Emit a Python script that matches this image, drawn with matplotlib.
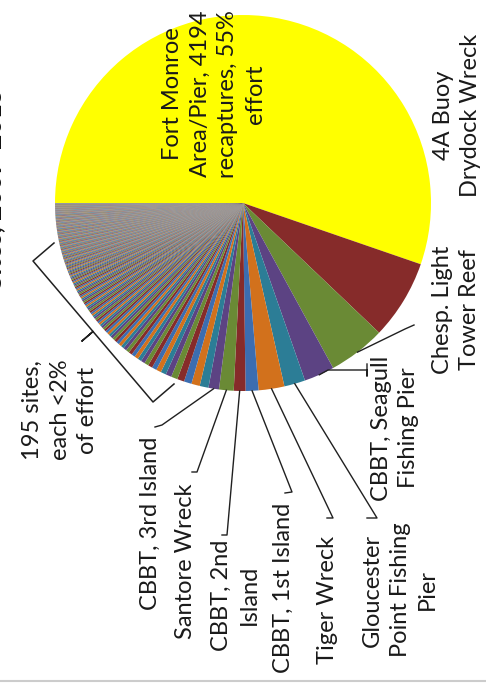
import numpy as np
import matplotlib.pyplot as plt

W, H = 486, 683

# sites in pie order (clockwise from the top of the original chart)
sites = ["Fort Monroe Area/Pier", "4A Buoy / Drydock Wreck", "Chesp. Light Tower Reef",
         "CBBT, Seagull Fishing Pier", "Gloucester Point Fishing Pier", "Tiger Wreck",
         "CBBT, 1st Island", "CBBT, 2nd Island", "Santore Wreck", "CBBT, 3rd Island"]
effort = [55.0, 6.8, 4.9, 2.6, 1.8, 2.2, 1.1, 1.0, 1.25, 0.9]

# the 195 minor sites, each <2% of effort
small_effort = [
    0.75, 0.72, 0.65, 0.60, 0.55, 0.50, 0.46, 0.43, 0.40, 0.38,
    0.36, 0.34, 0.33, 0.32, 0.31, 0.30, 0.29, 0.28, 0.27, 0.26,
    0.25, 0.24, 0.23, 0.22, 0.21, 0.20, 0.20, 0.19, 0.18, 0.18,
    0.17, 0.17, 0.17, 0.16, 0.16, 0.16, 0.16, 0.15, 0.15, 0.15,
    0.15, 0.15, 0.15, 0.14, 0.14, 0.14, 0.14, 0.14, 0.13, 0.13,
    0.13, 0.13, 0.13, 0.12, 0.12, 0.12, 0.12, 0.12, 0.11, 0.11,
    0.11, 0.11, 0.10, 0.10, 0.10, 0.10, 0.10, 0.09, 0.09, 0.09,
    0.09, 0.09, 0.09, 0.09, 0.08, 0.08, 0.08, 0.08, 0.08, 0.08,
    0.08, 0.08, 0.07, 0.07, 0.07, 0.07, 0.07, 0.07, 0.07, 0.07,
    0.07, 0.07, 0.07, 0.06, 0.06, 0.06, 0.06, 0.06, 0.06, 0.06,
    0.06, 0.06, 0.06, 0.06, 0.06, 0.06, 0.06, 0.06, 0.06, 0.06,
    0.06, 0.06, 0.06, 0.05, 0.05, 0.05, 0.05, 0.05, 0.05, 0.05,
    0.05, 0.05, 0.05, 0.05, 0.05, 0.05, 0.05, 0.05, 0.05, 0.05,
    0.05, 0.05, 0.05, 0.05, 0.05, 0.04, 0.04, 0.04, 0.04, 0.04,
    0.04, 0.04, 0.04, 0.04, 0.04, 0.04, 0.04, 0.04, 0.04, 0.04,
    0.04, 0.04, 0.04, 0.04, 0.04, 0.04, 0.04, 0.04, 0.04, 0.04,
    0.04, 0.04, 0.04, 0.04, 0.03, 0.03, 0.03, 0.03, 0.03, 0.03,
    0.03, 0.03, 0.03, 0.03, 0.03, 0.03, 0.03, 0.03, 0.03, 0.03,
    0.03, 0.03, 0.03, 0.03, 0.03, 0.03, 0.03, 0.03, 0.03, 0.03,
    0.03, 0.03, 0.02, 0.02, 0.02,
]

palette = ["#862B2A", "#6A8A35", "#5C4383", "#2C7D96", "#D2711C", "#3C6DB0"]

# label text, label centre (image px) and leader path (image px, last point is on the pie)
labels = ["Fort Monroe\nArea/Pier, 4194\nrecaptures, 55%\neffort",
          "4A Buoy\nDrydock Wreck",
          "Chesp. Light\nTower Reef",
          "CBBT, Seagull\nFishing Pier",
          "Gloucester\nPoint Fishing\nPier",
          "Tiger Wreck",
          "CBBT, 1st Island",
          "CBBT, 2nd\nIsland",
          "Santore Wreck",
          "CBBT, 3rd Island"]
label_xy = [(214, 94), (457, 115), (456, 310), (395, 428), (400, 590),
            (327, 600), (283, 588), (235, 595), (185, 561), (150, 523)]
leaders = [None, None,
           [(414, 325), (405, 329)],
           [(367, 364), (367, 376), (367, 370), (328, 370)],
           [(367, 518), (377, 518)],
           [(327, 518), (333, 518)],
           [(285, 493), (292, 492)],
           [(222, 535), (227, 535)],
           [(192, 472), (197, 472)],
           [(155, 427), (162, 425)]]

cx, cy, R = 243, 203, 188


def py(y):
    return H - y


plt.rcParams['font.family'] = ['Lato', 'DejaVu Sans']
fig = plt.figure(figsize=(W / 100, H / 100), dpi=100)
ax = fig.add_axes([0, 0, 1, 1])

values = effort + small_effort
colors = ["#FFFF00"] + [palette[i % 6] for i in range(len(values) - 1)]
wedges, _ = ax.pie(values, colors=colors, startangle=180, counterclock=False,
                   center=(cx, py(cy)), radius=R, wedgeprops=dict(linewidth=0))

ax.set_xlim(0, W)
ax.set_ylim(0, H)
ax.set_aspect('equal')
ax.axis('off')

tc = "#1A1A1A"
for i, (txt, (lx, ly)) in enumerate(zip(labels, label_xy)):
    ax.text(lx, py(ly), txt, rotation=90, ha='center', va='center',
            fontsize=17, color=tc, linespacing=1.4, multialignment='center')
    if leaders[i] is not None:
        w = wedges[i]
        ang = np.deg2rad((w.theta1 + w.theta2) / 2)
        px_, py_ = cx + R * np.cos(ang), cy - R * np.sin(ang)
        pts = leaders[i] + [(px_, py_)]
        ax.plot([p[0] for p in pts], [py(p[1]) for p in pts], color="#202020", lw=1)

# bracket for the minor sites
br = [(54, 243), (33, 261), (93, 331.5), (82, 341), (93, 331.5), (153, 402), (174, 384)]
ax.plot([p[0] for p in br], [py(p[1]) for p in br], color="#202020", lw=1.1)
ax.text(60, py(410), "195 sites,\neach <2%\nof effort", rotation=90, ha='center', va='center',
        fontsize=17, color=tc, linespacing=1.4)

# title, mostly cut off at the left edge
ax.text(-7, py(88), "Sites, 2007-2015", rotation=90, ha='center', va='top',
        fontsize=19, fontweight='bold', color="#111111", clip_on=False)

ax.plot([0, W], [py(681), py(681)], color="#CCCCCC", lw=1.5)

fig.savefig("out.png", dpi=100)
